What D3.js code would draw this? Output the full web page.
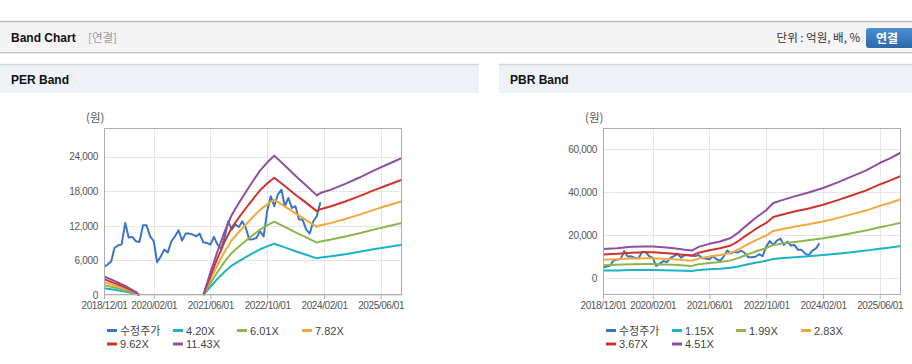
<!DOCTYPE html>
<html>
  <head>
    <meta charset="utf-8">
    <title>Band Chart</title>
    <script src="https://d3js.org/d3.v7.min.js"></script>
    <style>
      body { margin: 0; background: #fff; }
      svg { display: block; }
    </style>
  </head>
  <body>
    <svg width="912" height="364"></svg>
    <script>
      // 수정주가 (monthly, from 2018/12)
      const priceStart = "2018-12";
      const priceValues = [
        4870, 5300, 5840, 8170, 8630, 8750, 12520, 10000, 10090, 9330, 9210, 12100,
        12100, 10190, 9330, 5670, 6710, 7880, 7410, 9330, 10190, 11240, 9450, 10660,
        10660, 10500, 10190, 10660, 9150, 9040, 8750, 10090, 8750, 8000, 10000, 12800,
        11360, 12230, 11820, 12800, 11640, 9620, 9700, 9910, 11060, 10190, 14540, 17150,
        15410, 17440, 18310, 15410, 16870, 15130, 15410, 13100, 13100, 11360, 10660, 12800,
        13670, 16100
      ];

      // PER band
      const perDates = [
        "2018-12", "2019-03", "2019-06", "2019-09", "2019-10", "2020-06",
        "2021-04", "2021-06", "2021-08", "2021-10", "2021-12", "2022-02", "2022-04", "2022-06",
        "2022-08", "2022-10", "2022-12", "2023-03", "2023-06", "2023-09", "2023-12", "2024-01",
        "2024-04", "2024-08", "2024-12", "2025-04", "2025-08", "2025-12"
      ];
      const perLabels = ["4.20X", "6.01X", "7.82X", "9.62X", "11.43X"];
      const perBand1 = [1191, 900, 588, 184, 0, null, 0, 1433, 2793, 4042, 5108, 5880, 6578, 7276, 7937, 8452, 8893, 8268, 7607, 6982, 6357, 6504, 6725, 7092, 7497, 7937, 8342, 8746];
      const perBand2 = [1704, 1288, 841, 263, 0, null, 0, 2051, 3996, 5784, 7309, 8413, 9412, 10411, 11357, 12093, 12725, 11831, 10884, 9990, 9097, 9307, 9622, 10148, 10727, 11357, 11936, 12514];
      const perBand3 = [2217, 1676, 1095, 342, 0, null, 0, 2668, 5200, 7526, 9510, 10947, 12247, 13547, 14778, 15736, 16557, 15394, 14162, 13000, 11836, 12110, 12520, 13205, 13957, 14778, 15531, 16283];
      const perBand4 = [2727, 2062, 1347, 421, 0, null, 0, 3282, 6396, 9258, 11698, 13466, 15065, 16664, 18179, 19357, 20367, 18936, 17421, 15991, 14560, 14897, 15402, 16243, 17169, 18179, 19105, 20031];
      const perBand5 = [3240, 2450, 1600, 500, 0, null, 0, 3900, 7600, 11000, 13900, 16000, 17900, 19800, 21600, 23000, 24200, 22500, 20700, 19000, 17300, 17700, 18300, 19300, 20400, 21600, 22700, 23800];
      const perYTicks = [0, 6000, 12000, 18000, 24000];

      // PBR band
      const pbrDates = [
        "2018-12", "2019-04", "2019-08", "2019-12", "2020-02", "2020-05", "2020-08", "2020-11",
        "2021-01", "2021-03", "2021-06", "2021-09", "2021-12", "2022-02", "2022-04", "2022-07",
        "2022-10", "2022-12", "2023-02", "2023-06", "2023-10", "2024-02", "2024-06", "2024-10",
        "2025-02", "2025-06", "2025-09", "2025-12"
      ];
      const pbrLabels = ["1.15X", "1.99X", "2.83X", "3.67X", "4.51X"];
      const pbrBand1 = [3443, 3545, 3698, 3749, 3749, 3647, 3545, 3366, 3264, 3698, 4055, 4335, 4743, 5355, 6069, 7115, 8033, 8900, 9180, 9690, 10149, 10685, 11322, 12036, 12750, 13643, 14229, 14892];
      const pbrBand2 = [5956, 6133, 6397, 6486, 6486, 6309, 6133, 5824, 5647, 6397, 7015, 7500, 8206, 9265, 10501, 12309, 13898, 15398, 15883, 16766, 17560, 18486, 19589, 20825, 22060, 23604, 24619, 25766];
      const pbrBand3 = [8471, 8722, 9099, 9224, 9224, 8973, 8722, 8283, 8032, 9099, 9977, 10668, 11672, 13178, 14935, 17507, 19766, 21900, 22590, 23845, 24975, 26292, 27861, 29618, 31375, 33571, 35015, 36646];
      const pbrBand4 = [10985, 11310, 11799, 11961, 11961, 11636, 11310, 10741, 10415, 11799, 12938, 13833, 15135, 17088, 19366, 22702, 25632, 28398, 29293, 30921, 32385, 34094, 36128, 38407, 40685, 43533, 45404, 47520];
      const pbrBand5 = [13500, 13900, 14500, 14700, 14700, 14300, 13900, 13200, 12800, 14500, 15900, 17000, 18600, 21000, 23800, 27900, 31500, 34900, 36000, 38000, 39800, 41900, 44400, 47200, 50000, 53500, 55800, 58400];
      const pbrYTicks = [0, 20000, 40000, 60000];

      const xTickLabels = ["2018/12/01", "2020/02/01", "2021/06/01", "2022/10/01", "2024/02/01", "2025/06/01"];
      const priceLabel = "수정주가";
      const bandColors = ["#1bb3c6", "#8cb64c", "#f2a93b", "#d0322d", "#8e4f9f"];
      const priceColor = "#3a76c6";

      const FONT = "'Liberation Sans', Arial, 'Noto Sans CJK KR', sans-serif";
      const KFONT = "'Noto Sans CJK KR', 'Liberation Sans', sans-serif";
      const parseMonth = d3.timeParse("%Y-%m");
      const parseTick = d3.timeParse("%Y/%m/%d");

      function drawHeader(svg) {
        const defs = svg.append("defs");
        const grad = defs.append("linearGradient")
          .attr("id", "btnGrad").attr("x1", 0).attr("y1", 0).attr("x2", 0).attr("y2", 1);
        grad.append("stop").attr("offset", "0%").attr("stop-color", "#4b90d2");
        grad.append("stop").attr("offset", "100%").attr("stop-color", "#2b67ab");

        svg.append("rect").attr("x", 0).attr("y", 22).attr("width", 912).attr("height", 30)
          .attr("fill", "#f4f4f4");
        svg.append("line").attr("x1", 0).attr("x2", 912).attr("y1", 21.5).attr("y2", 21.5)
          .attr("stroke", "#bcbcbc").attr("stroke-width", 1.5);
        svg.append("line").attr("x1", 0).attr("x2", 912).attr("y1", 52.5).attr("y2", 52.5)
          .attr("stroke", "#c4c4c4");
        svg.append("line").attr("x1", 0).attr("x2", 912).attr("y1", 53.5).attr("y2", 53.5)
          .attr("stroke", "#e6e6e6");

        svg.append("text").attr("x", 11).attr("y", 42)
          .attr("font-family", FONT).attr("font-weight", "bold").attr("font-size", 12)
          .attr("fill", "#111").text("Band Chart");
        svg.append("text").attr("x", 88).attr("y", 42)
          .attr("font-family", KFONT).attr("font-size", 11.5)
          .attr("fill", "#999").text("[연결]");

        svg.append("text").attr("x", 860).attr("y", 42).attr("text-anchor", "end")
          .attr("font-family", KFONT).attr("font-size", 11.5)
          .attr("fill", "#333").text("단위 : 억원, 배, %");

        svg.append("rect").attr("x", 866).attr("y", 28).attr("width", 52).attr("height", 20)
          .attr("rx", 3).attr("fill", "url(#btnGrad)");
        svg.append("text").attr("x", 887).attr("y", 42.5).attr("text-anchor", "middle")
          .attr("font-family", KFONT).attr("font-weight", "bold").attr("font-size", 12)
          .attr("fill", "#fff").text("연결");
      }

      function drawPanelHeader(svg, props) {
        const { x, width, title } = props;
        svg.append("rect").attr("x", x).attr("y", 65).attr("width", width).attr("height", 28)
          .attr("fill", "#eef2f6");
        svg.append("line").attr("x1", x).attr("x2", x + width).attr("y1", 64.5).attr("y2", 64.5)
          .attr("stroke", "#d2d4d6").attr("stroke-width", 1.5);
        svg.append("text").attr("x", x + 11).attr("y", 84)
          .attr("font-family", FONT).attr("font-weight", "bold").attr("font-size", 12)
          .attr("fill", "#111").text(title);
      }

      function bandChart(selection, props) {
        const { id, left, top, width, height, yDomain, yTicks, dates, bands, labels } = props;

        const xScale = d3.scaleTime()
          .domain([parseMonth("2018-12"), parseMonth("2025-12")])
          .range([0, width]);
        const yScale = d3.scaleLinear().domain(yDomain).range([height, 0]);

        const g = selection.append("g").attr("transform", `translate(${left}, ${top})`);

        g.append("rect").attr("width", width).attr("height", height).attr("fill", "#fff");

        // grid
        const tickDates = xTickLabels.map(parseTick);
        g.append("g").selectAll("line").data(tickDates).join("line")
          .attr("x1", d => Math.round(xScale(d)) + 0.5).attr("x2", d => Math.round(xScale(d)) + 0.5)
          .attr("y1", 0).attr("y2", height)
          .attr("stroke", "#e6e6e6");
        g.append("g").selectAll("line").data(yTicks).join("line")
          .attr("x1", 0).attr("x2", width)
          .attr("y1", d => Math.round(yScale(d)) + 0.5).attr("y2", d => Math.round(yScale(d)) + 0.5)
          .attr("stroke", "#e6e6e6");

        // x axis
        const xAxis = d3.axisBottom(xScale)
          .tickValues(tickDates)
          .tickFormat((d, i) => xTickLabels[i])
          .tickSize(4).tickPadding(3);
        const xg = g.append("g").attr("transform", `translate(0, ${height})`).call(xAxis);
        xg.select(".domain").remove();
        xg.selectAll(".tick line").attr("stroke", "#b0b0b0");
        xg.selectAll(".tick text")
          .attr("font-family", FONT).attr("font-size", 10).attr("letter-spacing", -0.4)
          .attr("fill", "#555");

        // y axis
        const yAxis = d3.axisLeft(yScale)
          .tickValues(yTicks)
          .tickFormat(d3.format(","))
          .tickSize(0).tickPadding(6);
        const yg = g.append("g").call(yAxis);
        yg.select(".domain").remove();
        yg.selectAll(".tick text")
          .attr("font-family", FONT).attr("font-size", 10).attr("letter-spacing", -0.3)
          .attr("fill", "#555");

        g.append("text").attr("x", -18).attr("y", -6)
          .attr("font-family", KFONT).attr("font-size", 11.5)
          .attr("fill", "#555").text("(원)");

        // lines
        g.append("clipPath").attr("id", id + "-clip")
          .append("rect").attr("x", 0).attr("y", -2).attr("width", width).attr("height", height + 3);
        const lines = g.append("g").attr("clip-path", `url(#${id}-clip)`);

        const line = d3.line()
          .defined(d => d.v != null)
          .x(d => xScale(d.date))
          .y(d => yScale(d.v));

        const priceData = priceValues.map((v, i) => ({
          date: d3.timeMonth.offset(parseMonth(priceStart), i), v
        }));

        lines.append("path").datum(priceData)
          .attr("d", line).attr("fill", "none")
          .attr("stroke", priceColor).attr("stroke-width", 2).attr("stroke-linejoin", "round");

        bands.forEach((values, k) => {
          const data = values.map((v, i) => ({ date: parseMonth(dates[i]), v }));
          lines.append("path").datum(data)
            .attr("d", line).attr("fill", "none")
            .attr("stroke", bandColors[k]).attr("stroke-width", 2).attr("stroke-linejoin", "round");
        });

        g.append("rect").attr("x", 0.5).attr("y", 0.5).attr("width", width - 1).attr("height", height - 1)
          .attr("fill", "none").attr("stroke", "#adadad");

        // legend
        const items = [{ label: priceLabel, color: priceColor }]
          .concat(labels.map((l, k) => ({ label: l, color: bandColors[k] })));
        const colX = [3, 69, 133, 198];
        const legend = g.append("g").attr("transform", `translate(0, ${height})`);
        const item = legend.selectAll("g").data(items).join("g")
          .attr("transform", (d, i) => `translate(${colX[i % 4]}, ${i < 4 ? 35.5 : 49})`);
        item.append("line").attr("x1", 0).attr("x2", 10).attr("y1", 0).attr("y2", 0)
          .attr("stroke", d => d.color).attr("stroke-width", 3);
        item.append("text").attr("x", 13).attr("y", 4)
          .attr("font-family", FONT).attr("font-size", 11)
          .attr("fill", "#444").text(d => d.label);
      }

      function main() {
        const svg = d3.select("svg");
        drawHeader(svg);
        drawPanelHeader(svg, { x: 0, width: 479, title: "PER Band" });
        drawPanelHeader(svg, { x: 499, width: 413, title: "PBR Band" });

        svg.call(bandChart, {
          id: "per", left: 104, top: 128, width: 298, height: 167,
          yDomain: [0, 29000], yTicks: perYTicks,
          dates: perDates,
          bands: [perBand1, perBand2, perBand3, perBand4, perBand5],
          labels: perLabels
        });
        svg.call(bandChart, {
          id: "pbr", left: 603, top: 128, width: 298, height: 167,
          yDomain: [-7900, 69800], yTicks: pbrYTicks,
          dates: pbrDates,
          bands: [pbrBand1, pbrBand2, pbrBand3, pbrBand4, pbrBand5],
          labels: pbrLabels
        });
      }
      main();
    </script>
  </body>
</html>
